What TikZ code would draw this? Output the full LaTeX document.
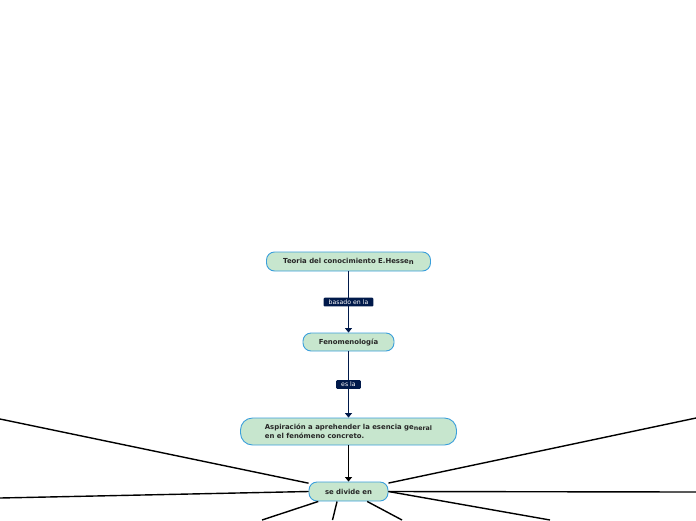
\documentclass[tikz,border=0pt]{standalone}
\usepackage{fontspec}
\setmainfont{DejaVu Sans}
\usetikzlibrary{arrows.meta}
\definecolor{topicfill}{HTML}{C7E6CE}
\definecolor{topicline}{HTML}{3A9FDB}
\definecolor{navy}{HTML}{00194A}

\tikzset{
  topic/.style={draw=topicline, fill=topicfill, line width=0.9pt, rounded corners=8pt,
    font=\fontsize{6.9}{9}\selectfont\bfseries, text=black!85, inner sep=0pt, align=center},
  linklabel/.style={fill=navy, text=white, font=\fontsize{6.2}{7}\selectfont,
    inner xsep=5pt, inner ysep=2pt, rounded corners=1pt},
  link/.style={draw=navy, line width=1.5pt, -{Triangle[width=7pt,length=4.5pt]}},
  branch/.style={draw=black, line width=1.4pt}
}

\begin{document}
\begin{tikzpicture}[x=1pt,y=-1pt]
  \useasboundingbox (0,0) rectangle (696,520);

  % main chain
  \node[topic, minimum width=164pt, minimum height=19pt] (teoria) at (348.5,261.5)
    {Teoria del conocimiento E.Hesse\raisebox{-1.2pt}{n}};
  \node[topic, minimum width=91pt, minimum height=18pt] (fenom) at (348.5,342)
    {Fenomenología};
  \node[topic, minimum width=216pt, minimum height=27pt, rounded corners=12pt, align=left] (aspir) at (348.5,431.5)
    {Aspiración a aprehender la esencia ge\raisebox{-0.8pt}{\fontsize{6.3}{7}\selectfont neral}\\en el fenómeno concreto.};
  \node[topic, minimum width=79pt, minimum height=19pt] (divide) at (348.5,491.5)
    {se divide en};

  \draw[link] (teoria) -- node[linklabel] (lbasado) {basado en la} (fenom);
  \draw[link] (fenom) -- node[linklabel] (lesla) {es la} (aspir);
  \draw[branch, -{Triangle[width=7pt,length=4.5pt]}] (aspir) -- (divide);

  % branches leaving the page
  \coordinate (w1) at (0,419);
  \coordinate (w2) at (0,498);
  \coordinate (s1) at (262,520);
  \coordinate (s2) at (332.5,520);
  \coordinate (s3) at (402,520);
  \coordinate (e1) at (696,418);
  \coordinate (e2) at (696,492);
  \coordinate (e3) at (550,520);

  \draw[branch] (divide) -- (w1);
  \draw[branch] (divide.west) -- (w2);
  \draw[branch] (divide) -- (s1);
  \draw[branch] (divide.221) -- (s2);
  \draw[branch] (divide) -- (s3);
  \draw[branch] (divide) -- (e1);
  \draw[branch] (divide.east) -- (e2);
  \draw[branch] (divide.east) -- (e3);
\end{tikzpicture}
\end{document}
